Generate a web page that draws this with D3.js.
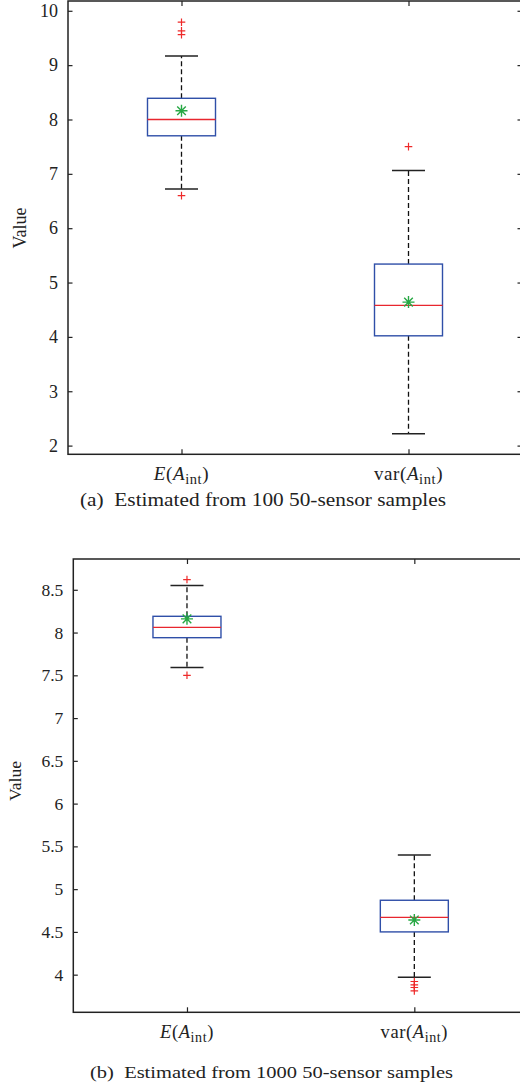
<!DOCTYPE html>
<html><head><meta charset="utf-8">
<script src="https://cdn.jsdelivr.net/npm/d3@7"></script>
<style>
html,body{margin:0;padding:0;background:#fff;}
svg{display:block;}
text{font-family:"Liberation Serif","Times New Roman",serif;fill:#222;}
</style></head><body>
<script>
// ---- data ----
const categories = ["E", "var"];
// panel (a): 100 samples
const aWhiskerLow  = [6.72, 2.22];
const aQ1          = [7.70, 4.02];
const aMedian      = [8.00, 4.58];
const aQ3          = [8.39, 5.34];
const aWhiskerHigh = [9.17, 7.06];
const aMean        = [8.16, 4.64];
const aOutliers    = [[9.79, 9.63, 9.56, 6.60], [7.50]];
const aTicks       = [2, 3, 4, 5, 6, 7, 8, 9, 10];
// panel (b): 1000 samples
const bWhiskerLow  = [7.59, 3.97];
const bQ1          = [7.94, 4.50];
const bMedian      = [8.06, 4.67];
const bQ3          = [8.19, 4.87];
const bWhiskerHigh = [8.55, 5.40];
const bMean        = [8.16, 4.64];
const bOutliers    = [[8.62, 7.50], [3.92, 3.88, 3.85, 3.81]];
const bTicks       = [4, 4.5, 5, 5.5, 6, 6.5, 7, 7.5, 8, 8.5];
const captions = ["(a)  Estimated from 100 50-sensor samples", "(b)  Estimated from 1000 50-sensor samples"];
const yLabel = "Value";

const W = 520, H = 1091;
const FONT = '"Liberation Serif","Times New Roman",serif';
const svg = d3.select("body").append("svg").attr("width", W).attr("height", H);

function panel(cfg) {
  const {left, top, right, bottom, domain, ticks, lo, q1, med, q3, hi, mean, outl,
         caption, capX, capY, capW, labY, yLabX, yLabY, fs} = cfg;
  const g = svg.append("g");
  const y = d3.scaleLinear().domain(domain).range([bottom, top]);
  const x = d3.scalePoint().domain(categories).range([left, right]).padding(0.5);
  const data = categories.map((c, i) => ({c, lo: lo[i], q1: q1[i], med: med[i], q3: q3[i], hi: hi[i], mean: mean[i], out: outl[i]}));
  const bw = 68, cw = 33;

  // whiskers (dashed)
  g.selectAll(".wu").data(data).join("line")
    .attr("x1", d => x(d.c)).attr("x2", d => x(d.c))
    .attr("y1", d => y(d.q3)).attr("y2", d => y(d.hi))
    .attr("stroke", "#111").attr("stroke-width", 1.3).attr("stroke-dasharray", "5,3");
  g.selectAll(".wl").data(data).join("line")
    .attr("x1", d => x(d.c)).attr("x2", d => x(d.c))
    .attr("y1", d => y(d.q1)).attr("y2", d => y(d.lo))
    .attr("stroke", "#111").attr("stroke-width", 1.3).attr("stroke-dasharray", "5,3");
  // caps
  ["hi", "lo"].forEach(k => {
    g.selectAll(".cap" + k).data(data).join("line")
      .attr("x1", d => x(d.c) - cw / 2).attr("x2", d => x(d.c) + cw / 2)
      .attr("y1", d => y(d[k])).attr("y2", d => y(d[k]))
      .attr("stroke", "#222").attr("stroke-width", 1.5);
  });
  // boxes
  g.selectAll(".box").data(data).join("rect")
    .attr("x", d => x(d.c) - bw / 2).attr("width", bw)
    .attr("y", d => y(d.q3)).attr("height", d => y(d.q1) - y(d.q3))
    .attr("fill", "#fff").attr("stroke", "#2f4fa8").attr("stroke-width", 1.4);
  // medians
  g.selectAll(".med").data(data).join("line")
    .attr("x1", d => x(d.c) - bw / 2).attr("x2", d => x(d.c) + bw / 2)
    .attr("y1", d => y(d.med)).attr("y2", d => y(d.med))
    .attr("stroke", "#e8262e").attr("stroke-width", 1.3);
  // outliers (+)
  const outs = data.flatMap(d => d.out.map(v => ({c: d.c, v})));
  const s = 3.8;
  g.selectAll(".out").data(outs).join("path")
    .attr("d", d => `M${x(d.c) - s},${y(d.v)}H${x(d.c) + s}M${x(d.c)},${y(d.v) - s}V${y(d.v) + s}`)
    .attr("stroke", "#ee2a2a").attr("stroke-width", 1.2).attr("fill", "none");
  // mean stars
  const r = 6, rd = 4.3;
  g.selectAll(".mean").data(data).join("path")
    .attr("d", d => {
      const cx = x(d.c), cy = y(d.mean);
      return `M${cx - r},${cy}H${cx + r}M${cx},${cy - r}V${cy + r}M${cx - rd},${cy - rd}L${cx + rd},${cy + rd}M${cx - rd},${cy + rd}L${cx + rd},${cy - rd}`;
    })
    .attr("stroke", "#27a844").attr("stroke-width", 1.4).attr("fill", "none");

  // axes frame
  const ax = d3.axisLeft(y).tickValues(ticks).tickSizeInner(-4.5).tickSizeOuter(0).tickPadding(10).tickFormat(d3.format("~g"));
  const ag = g.append("g").attr("transform", `translate(${left},0)`).call(ax)
    .attr("font-family", FONT).attr("font-size", fs);
  ag.select(".domain").remove();
  ag.selectAll("line").attr("stroke", "#222").attr("stroke-width", 1.2);
  ag.selectAll("text").attr("fill", "#222");
  const axr = d3.axisRight(y).tickValues(ticks).tickSizeInner(-4.5).tickSizeOuter(0).tickFormat("");
  const arg = g.append("g").attr("transform", `translate(${right},0)`).call(axr);
  arg.select(".domain").remove();
  arg.selectAll("line").attr("stroke", "#222").attr("stroke-width", 1.2);

  const bx = d3.axisBottom(x).tickSizeInner(-5).tickSizeOuter(0).tickFormat("");
  const bg = g.append("g").attr("transform", `translate(0,${bottom})`).call(bx);
  bg.select(".domain").remove();
  bg.selectAll("line").attr("stroke", "#222").attr("stroke-width", 1.2);
  const tx = d3.axisTop(x).tickSizeInner(-5).tickSizeOuter(0).tickFormat("");
  const tg = g.append("g").attr("transform", `translate(0,${top})`).call(tx);
  tg.select(".domain").remove();
  tg.selectAll("line").attr("stroke", "#222").attr("stroke-width", 1.2);

  g.append("rect").attr("x", left).attr("y", top).attr("width", right - left).attr("height", bottom - top)
    .attr("fill", "none").attr("stroke", "#222").attr("stroke-width", 1.5);

  // x labels
  data.forEach((d, i) => {
    const t = g.append("text").attr("x", x(d.c)).attr("y", labY).attr("text-anchor", "middle")
      .attr("font-size", fs + 1).attr("letter-spacing", 0.6);
    if (d.c === "E") {
      t.append("tspan").attr("font-style", "italic").text("E");
      t.append("tspan").text("(");
    } else {
      t.append("tspan").text("var(");
    }
    t.append("tspan").attr("font-style", "italic").text("A");
    t.append("tspan").attr("font-size", (fs + 1) * 0.76).attr("dy", 4).text("int");
    t.append("tspan").attr("dy", -4).text(")");
  });
  // y label
  g.append("text").attr("transform", `translate(${yLabX},${yLabY}) rotate(-90)`)
    .attr("text-anchor", "middle").attr("font-size", fs).text(yLabel);
  // caption
  g.append("text").attr("x", capX).attr("y", capY).attr("text-anchor", "middle")
    .attr("font-size", fs).attr("xml:space", "preserve").style("white-space", "pre")
    .attr("textLength", capW).attr("lengthAdjust", "spacingAndGlyphs").text(caption);
}

panel({left: 68, top: 1, right: 522, bottom: 454.3, domain: [1.84, 10.18], ticks: aTicks,
  lo: aWhiskerLow, q1: aQ1, med: aMedian, q3: aQ3, hi: aWhiskerHigh, mean: aMean, outl: aOutliers,
  caption: captions[0], capX: 263, capY: 505.5, capW: 366, labY: 480, yLabX: 26, yLabY: 228, fs: 18});
panel({left: 73.3, top: 559, right: 528, bottom: 1012.3, domain: [3.56, 8.86], ticks: bTicks,
  lo: bWhiskerLow, q1: bQ1, med: bMedian, q3: bQ3, hi: bWhiskerHigh, mean: bMean, outl: bOutliers,
  caption: captions[1], capX: 271.5, capY: 1077.5, capW: 363, labY: 1038, yLabX: 21, yLabY: 781, fs: 17.5});
</script>
</body></html>
